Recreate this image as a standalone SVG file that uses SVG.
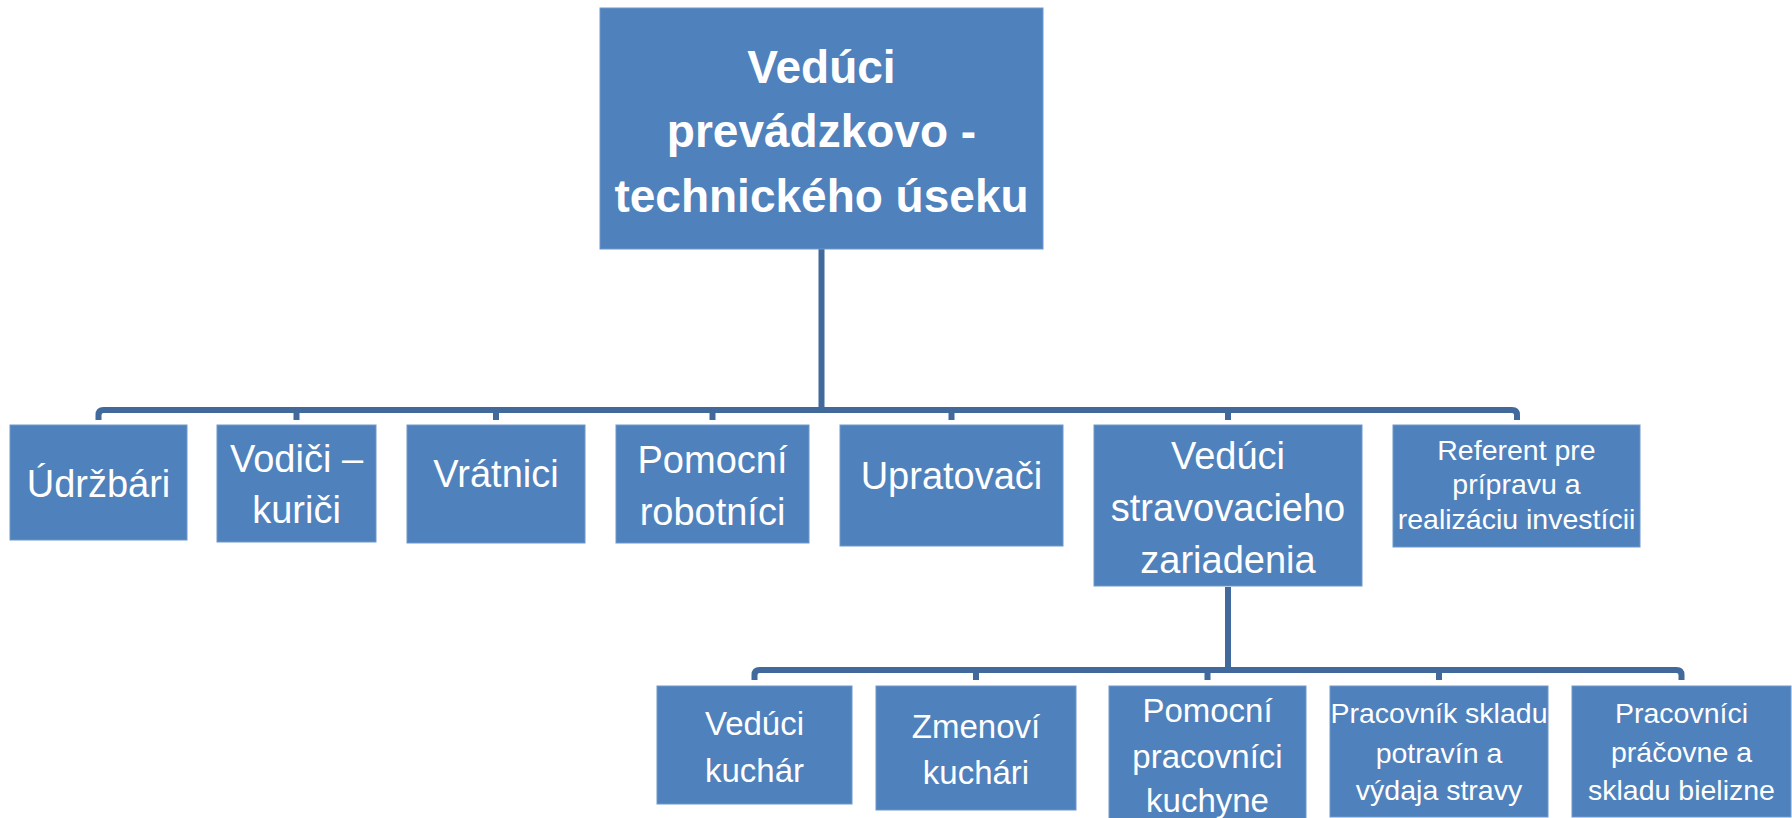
<svg xmlns="http://www.w3.org/2000/svg" width="1792" height="818" viewBox="0 0 1792 818">
<style>
.box{fill:#4F81BD;stroke:#6F97CA;stroke-width:1}
.t{fill:#FFFFFF;font-family:"Liberation Sans",Arial,sans-serif;text-anchor:middle}
.top{font-size:46px;font-weight:bold}
.l1{font-size:38px}
.l2{font-size:33px}
.s{font-size:28.5px}
.c{fill:none;stroke:#41699C;stroke-width:6}
</style>
<rect width="1792" height="818" fill="#FFFFFF"/>
<g id="connectors">
<path class="c" d="M821.5,249 V410"/>
<path class="c" d="M98.5,420 V415 Q98.5,410 103.5,410 H1512 Q1517,410 1517,415 V420"/>
<path class="c" d="M296.5,410 V420 M496,410 V420 M712.5,410 V420 M951.5,410 V420 M1228,410 V420"/>
<path class="c" d="M1228,587 V670"/>
<path class="c" d="M754.5,680 V675 Q754.5,670 759.5,670 H1676.5 Q1681.5,670 1681.5,675 V680"/>
<path class="c" d="M976,670 V680 M1207.5,670 V680 M1439,670 V680"/>
</g>
<g id="n-veduci-pts">
<rect class="box" x="600" y="8" width="443" height="241"/>
<text class="t top" x="821.5" y="83">Vedúci</text>
<text class="t top" x="821.5" y="147">prevádzkovo -</text>
<text class="t top" x="821.5" y="212">technického úseku</text>
</g>
<g id="n-udrzbari">
<rect class="box" x="10" y="425" width="177" height="115"/>
<text class="t l1" x="98.5" y="497">Údržbári</text>
</g>
<g id="n-vodici">
<rect class="box" x="217" y="425" width="159" height="117"/>
<text class="t l1" x="296.5" y="472">Vodiči –</text>
<text class="t l1" x="296.5" y="523">kuriči</text>
</g>
<g id="n-vratnici">
<rect class="box" x="407" y="425" width="178" height="118"/>
<text class="t l1" x="496" y="487">Vrátnici</text>
</g>
<g id="n-pomocni-robotnici">
<rect class="box" x="616" y="425" width="193" height="118"/>
<text class="t l1" x="712.5" y="473">Pomocní</text>
<text class="t l1" x="712.5" y="525">robotníci</text>
</g>
<g id="n-upratovaci">
<rect class="box" x="840" y="425" width="223" height="121"/>
<text class="t l1" x="951.5" y="489">Upratovači</text>
</g>
<g id="n-veduci-strav">
<rect class="box" x="1094" y="425" width="268" height="161"/>
<text class="t l1" x="1228" y="469">Vedúci</text>
<text class="t l1" x="1228" y="521">stravovacieho</text>
<text class="t l1" x="1228" y="573">zariadenia</text>
</g>
<g id="n-referent">
<rect class="box" x="1393" y="425" width="247" height="122"/>
<text class="t s" x="1516.5" y="460">Referent pre</text>
<text class="t s" x="1516.5" y="494">prípravu a</text>
<text class="t s" x="1516.5" y="529">realizáciu investícii</text>
</g>
<g id="n-veduci-kuchar">
<rect class="box" x="657" y="686" width="195" height="118"/>
<text class="t l2" x="754.5" y="735">Vedúci</text>
<text class="t l2" x="754.5" y="782">kuchár</text>
</g>
<g id="n-zmenovi">
<rect class="box" x="876" y="686" width="200" height="124"/>
<text class="t l2" x="976" y="738">Zmenoví</text>
<text class="t l2" x="976" y="784">kuchári</text>
</g>
<g id="n-pomocni-kuchyne">
<rect class="box" x="1109" y="686" width="197" height="136"/>
<text class="t l2" x="1207.5" y="722">Pomocní</text>
<text class="t l2" x="1207.5" y="768">pracovníci</text>
<text class="t l2" x="1207.5" y="812">kuchyne</text>
</g>
<g id="n-sklad-potravin">
<rect class="box" x="1330" y="686" width="218" height="131"/>
<text class="t s" x="1439" y="723">Pracovník skladu</text>
<text class="t s" x="1439" y="763">potravín a</text>
<text class="t s" x="1439" y="800">výdaja stravy</text>
</g>
<g id="n-pracovne">
<rect class="box" x="1572" y="686" width="219" height="131"/>
<text class="t s" x="1681.5" y="723">Pracovníci</text>
<text class="t s" x="1681.5" y="762">práčovne a</text>
<text class="t s" x="1681.5" y="800">skladu bielizne</text>
</g>
</svg>
